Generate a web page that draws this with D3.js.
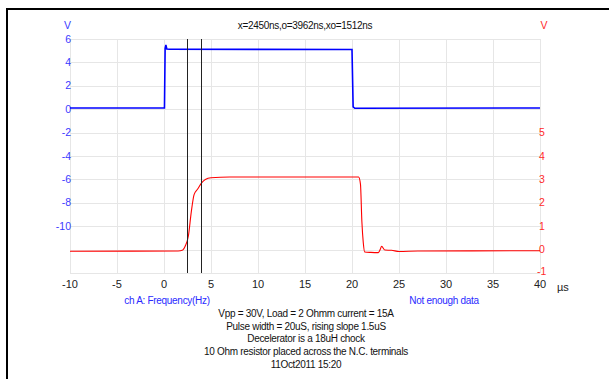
<!DOCTYPE html>
<html>
<head>
<meta charset="utf-8">
<script src="https://cdn.jsdelivr.net/npm/d3@7"></script>
<style>
	body { margin: 0; background: #fff; }
	svg { display: block; font-family: "Liberation Sans", Arial, sans-serif; }
	.tick-x { font-size: 11px; fill: #222; }
	.tick-y { font-size: 10.5px; }
	.note { font-size: 10px; letter-spacing: -0.3px; }
</style>
</head>
<body>
<div id="chart"></div>
<script>
// time axis (µs)
const xTicks = [-10, -5, 0, 5, 10, 15, 20, 25, 30, 35, 40];
const leftTicks = [6, 4, 2, 0, -2, -4, -6, -8, -10];
const leftGrid = [6, 4, 2, 0, -2, -4, -6, -8, -10, -12, -14];
const rightTicks = [5, 4, 3, 2, 1, 0, -1];

// channel A (blue, left axis)
const blueT = [-10, 0.05, 0.12, 0.2, 0.3, 0.6, 20.0, 20.12, 20.3, 40];
const blueV = [0.1, 0.1, 5.2, 5.5, 5.15, 5.12, 5.1, 0.2, 0.08, 0.1];

// channel B (red, right axis)
const redT = [-10, 1.5, 2.0, 2.25, 2.6, 2.9, 3.2, 3.6, 4.0, 4.4, 5.0, 7, 20.7, 20.9, 21.05, 21.2, 21.35, 22.0, 22.8, 23.0, 23.15, 23.5, 24.2, 25, 27, 40];
const redV = [-0.07, -0.06, -0.02, 0.14, 0.6, 1.6, 2.35, 2.6, 2.85, 3.0, 3.07, 3.1, 3.1, 2.8, 1.2, 0.3, -0.1, -0.12, -0.13, 0.0, 0.14, -0.02, -0.03, -0.08, -0.06, -0.05];

// cursors
const cursors = [2.45, 3.962];

const title = "x=2450ns,o=3962ns,xo=1512ns";
const footer = [
	"Vpp = 30V, Load = 2 Ohmm current = 15A",
	"Pulse width = 20uS, rising slope 1.5uS",
	"Decelerator is a  18uH chock",
	"10 Ohm resistor placed across the N.C. terminals",
	"11Oct2011  15:20"
];

const W = 609, H = 379;
const margin = {top: 39, left: 70, right: 69, bottom: 106};
const blueCol = "#0000ff", redCol = "#ff0000";

const svg = d3.select("#chart").append("svg")
	.attr("width", W)
	.attr("height", H);

// outer frame
svg.append("rect")
	.attr("x", 7).attr("y", 9)
	.attr("width", W + 20).attr("height", H + 20)
	.attr("fill", "none")
	.attr("stroke", "#000")
	.attr("stroke-width", 2);

const x = d3.scaleLinear().domain([-10, 40]).range([margin.left, W - margin.right]);
const yL = d3.scaleLinear().domain([-14, 6]).range([H - margin.bottom, margin.top]);
const yR = d3.scaleLinear().domain([-1, 9]).range([H - margin.bottom, margin.top]);

// grid
const grid = svg.append("g").attr("stroke", "#e6e6e6").attr("stroke-width", 1);
grid.selectAll("line.v")
	.data(xTicks)
	.enter().append("line")
	.attr("x1", d => Math.round(x(d)) + 0.5)
	.attr("x2", d => Math.round(x(d)) + 0.5)
	.attr("y1", yL(6)).attr("y2", yL(-14));
grid.selectAll("line.h")
	.data(leftGrid)
	.enter().append("line")
	.attr("x1", x(-10)).attr("x2", x(40))
	.attr("y1", d => Math.round(yL(d)) + 0.5)
	.attr("y2", d => Math.round(yL(d)) + 0.5);

// x tick labels
svg.append("g").selectAll("text")
	.data(xTicks)
	.enter().append("text")
	.classed("tick-x", true)
	.attr("x", d => x(d))
	.attr("y", yL(-14) + 15)
	.attr("text-anchor", "middle")
	.text(d => d);
svg.append("text").classed("tick-x", true)
	.attr("x", 557).attr("y", yL(-14) + 18)
	.text("µs");

// left axis labels
svg.append("g").selectAll("text")
	.data(leftTicks)
	.enter().append("text")
	.classed("tick-y", true)
	.attr("x", margin.left + 1)
	.attr("y", d => yL(d))
	.attr("dy", "0.35em")
	.attr("text-anchor", "end")
	.attr("fill", "#3a3aff")
	.text(d => d);
svg.append("text").classed("tick-y", true)
	.attr("x", 67.5).attr("y", 29)
	.attr("text-anchor", "middle")
	.attr("fill", "#3a3aff")
	.text("V");

// right axis labels
svg.append("g").selectAll("text")
	.data(rightTicks)
	.enter().append("text")
	.classed("tick-y", true)
	.attr("x", d => d < 0 ? 537 : 539)
	.attr("y", d => yR(d))
	.attr("dy", d => d < 0 ? "0.2em" : "0.35em")
	.attr("fill", "#ff2a2a")
	.text(d => d);
svg.append("text").classed("tick-y", true)
	.attr("x", 544).attr("y", 29)
	.attr("text-anchor", "middle")
	.attr("fill", "#ff2a2a")
	.text("V");

// title
svg.append("text").classed("note", true)
	.attr("x", 305).attr("y", 29)
	.attr("text-anchor", "middle")
	.attr("fill", "#111")
	.text(title);

// traces
const blueLine = d3.line().x(d => x(d[0])).y(d => yL(d[1]));
svg.append("path")
	.datum(d3.zip(blueT, blueV))
	.attr("d", blueLine)
	.attr("fill", "none")
	.attr("stroke", blueCol)
	.attr("stroke-width", 1.6);

const redLine = d3.line().x(d => x(d[0])).y(d => yR(d[1])).curve(d3.curveMonotoneX);
svg.append("path")
	.datum(d3.zip(redT, redV))
	.attr("d", redLine)
	.attr("fill", "none")
	.attr("stroke", redCol)
	.attr("stroke-width", 1.1);

// cursors
svg.append("g").selectAll("line")
	.data(cursors)
	.enter().append("line")
	.attr("x1", d => Math.round(x(d)) + 0.5)
	.attr("x2", d => Math.round(x(d)) + 0.5)
	.attr("y1", yL(6)).attr("y2", yL(-14))
	.attr("stroke", "#222")
	.attr("stroke-width", 1);

// channel captions
svg.append("text").classed("note", true)
	.attr("x", 167).attr("y", 304)
	.attr("text-anchor", "middle")
	.attr("fill", "#2a2aff")
	.text("ch A: Frequency(Hz)");
svg.append("text").classed("note", true)
	.attr("x", 444).attr("y", 304)
	.attr("text-anchor", "middle")
	.attr("fill", "#2a2aff")
	.text("Not enough data");

// footer notes
svg.append("g").selectAll("text")
	.data(footer)
	.enter().append("text")
	.classed("note", true)
	.attr("x", 306)
	.attr("y", (d, i) => 317 + i * 12.7)
	.attr("text-anchor", "middle")
	.attr("fill", "#111")
	.text(d => d);
</script>
</body>
</html>
